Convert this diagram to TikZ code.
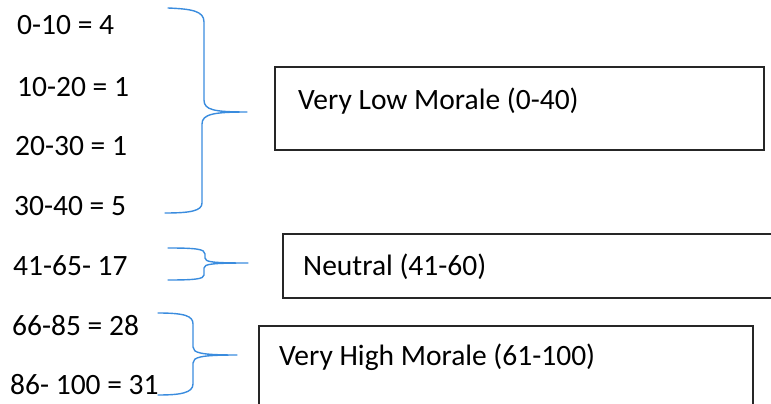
\documentclass[tikz,border=0pt]{standalone}
\usepackage{fontspec}
\setmainfont{Carlito}
\definecolor{pen}{RGB}{58,140,222}
\begin{document}
\begin{tikzpicture}[x=1pt,y=-1pt,
  lbl/.style={anchor=base west,inner sep=0pt,font=\fontsize{29.5}{32}\selectfont},
  box/.style={draw=black!85,line width=1.6pt,anchor=north west,inner sep=0pt},
  brace/.style={draw=pen,line width=1.4pt,line cap=round,line join=round}]
\useasboundingbox (0,0) rectangle (771,404);

% score bands
\node[lbl] (r1) at (17,35)  {0-10 = 4};
\node[lbl] (r2) at (17,96)  {10-20 = 1};
\node[lbl] (r3) at (15,155) {20-30 = 1};
\node[lbl] (r4) at (14,215) {30-40 = 5};
\node[lbl] (r5) at (13,275) {41-65- 17};
\node[lbl] (r6) at (12,335) {66-85 = 28};
\node[lbl] (r7) at (10,394) {86- 100 = 31};

% category boxes
\node[box,minimum width=489pt,minimum height=83pt] (low) at (274,66) {};
\node[lbl] (lowtxt) at (298,109) {Very Low Morale (0-40)};
\node[box,minimum width=500pt,minimum height=64pt] (mid) at (282,233) {};
\node[lbl] (midtxt) at (303,275) {Neutral (41-60)};
\node[box,minimum width=494pt,minimum height=100pt] (high) at (258,325) {};
\node[lbl] (hightxt) at (279,365) {Very High Morale (61-100)};

% brace tips
\coordinate (b1) at (247,112);
\coordinate (b2) at (248,263);
\coordinate (b3) at (237,355);

% braces grouping the bands
\draw[brace] (168,8) .. controls (192,9) and (204,11) .. (204,22) -- (204,100)
  .. controls (204,110) and (214,112) .. (b1)
  .. controls (214,112) and (202,114) .. (202,124) -- (202,203)
  .. controls (202,211) and (190,213) .. (165,213);
\draw[brace] (168,248) .. controls (196,248) and (205,249) .. (205,254) -- (205,258)
  .. controls (205,262) and (212,263) .. (b2)
  .. controls (212,263) and (204,264) .. (204,268) -- (204,275)
  .. controls (204,279) and (195,280) .. (168,280);
\draw[brace] (158,313) .. controls (185,313) and (193,316) .. (193,324) -- (193,347)
  .. controls (193,353) and (201,355) .. (b3)
  .. controls (201,355) and (193,357) .. (193,363) -- (193,384)
  .. controls (193,393) and (180,395) .. (158,395);
\end{tikzpicture}
\end{document}
